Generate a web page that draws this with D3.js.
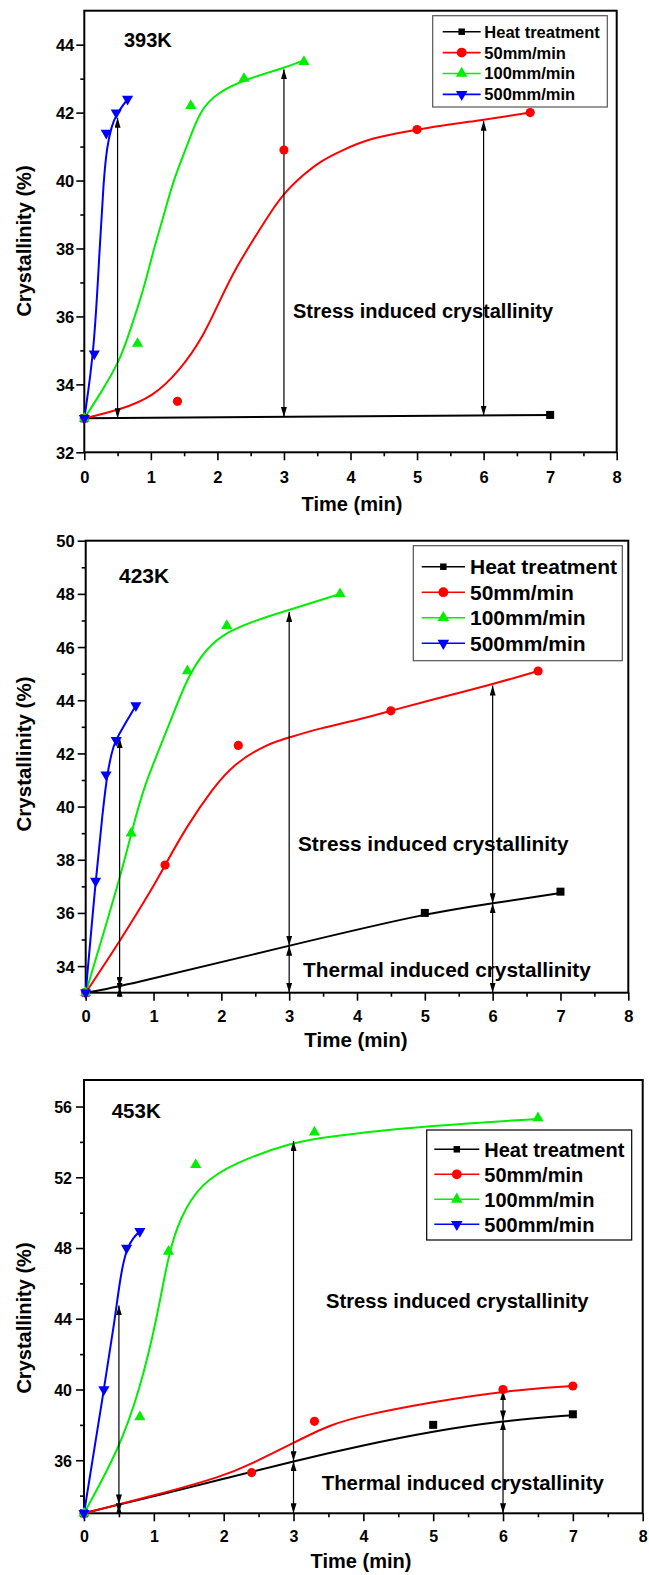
<!DOCTYPE html>
<html>
<head>
<meta charset="utf-8">
<script src="https://cdn.jsdelivr.net/npm/d3@7"></script>
<style>
  body { margin: 0; background: #fff; }
  text { font-family: "Liberation Sans", Arial, Helvetica, sans-serif; font-weight: bold; fill: #000; }
</style>
</head>
<body>
<svg id="chart" width="649" height="1575"></svg>
<script>
const seriesNames = ['Heat treatment', '50mm/min', '100mm/min', '500mm/min'];
const seriesColors = ['#000000', '#ff0000', '#00ee00', '#0000ff'];
const seriesSymbols = ['square', 'circle', 'triangle', 'triangleDown'];

const xTicks = [0, 1, 2, 3, 4, 5, 6, 7, 8];
const xMinor = [0.5, 1.5, 2.5, 3.5, 4.5, 5.5, 6.5, 7.5];

// ---- 393K ----
const p1Title = '393K';
const p1YDomain = [32, 45];
const p1YTicks = [32, 34, 36, 38, 40, 42, 44];
const p1YMinor = [33, 35, 37, 39, 41, 43];
const p1Heat = [[0, 33.0], [7, 33.1]];
const p1HeatFit = [[0, 33.0], [7, 33.1]];
const p1Rate50 = [[0, 33.0], [1.4, 33.5], [3.0, 40.9], [5.0, 41.5], [6.7, 42.0]];
const p1Rate50Fit = [[0, 33.0], [0.54, 33.25], [1.04, 33.64], [1.44, 34.42], [1.79, 35.41], [2.04, 36.49],
  [2.29, 37.47], [2.54, 38.26], [2.79, 39.04], [3.0, 39.63], [3.29, 40.17], [3.54, 40.56], [3.84, 40.86],
  [4.29, 41.25], [5.0, 41.51], [6.0, 41.79], [6.7, 42.0]];
const p1Rate100 = [[0, 33.0], [0.8, 35.2], [1.6, 42.2], [2.4, 43.0], [3.3, 43.5]];
const p1Rate100Fit = [[0, 33.0], [0.25, 33.75], [0.54, 34.72], [0.69, 35.6], [0.89, 36.78], [1.04, 37.96],
  [1.19, 38.94], [1.34, 40.02], [1.54, 41.0], [1.74, 42.08], [1.99, 42.57], [2.4, 42.97], [3.0, 43.31], [3.3, 43.54]];
const p1Rate500 = [[0, 33.0], [0.15, 34.9], [0.33, 41.4], [0.48, 42.0], [0.65, 42.4]];
const p1Rate500Fit = [[0, 33.0], [0.15, 35.0], [0.23, 38.0], [0.29, 40.0], [0.34, 41.0], [0.41, 41.6],
  [0.48, 41.95], [0.65, 42.4]];
const p1Arrows = [[0.5, 33.0, 41.85], [3, 33.04, 43.28], [6, 33.08, 41.76]];
const p1Notes = ['Stress induced crystallinity'];

// ---- 423K ----
const p2Title = '423K';
const p2YDomain = [33, 50];
const p2YTicks = [34, 36, 38, 40, 42, 44, 46, 48, 50];
const p2YMinor = [35, 37, 39, 41, 43, 45, 47, 49];
const p2Heat = [[0, 33.0], [5, 36.0], [7, 36.8]];
const p2HeatFit = [[0, 33.0], [0.5, 33.22], [3, 34.77], [5, 35.98], [6, 36.36], [7, 36.75]];
const p2Rate50 = [[0, 33.0], [1.17, 37.8], [2.25, 42.3], [4.5, 43.6], [6.67, 45.1]];
const p2Rate50Fit = [[0, 33.0], [0.5, 34.92], [1.0, 37.0], [1.17, 37.8], [1.5, 39.3], [1.88, 40.7],
  [2.18, 41.6], [2.67, 42.35], [3.0, 42.6], [3.46, 42.95], [4.0, 43.25], [4.49, 43.6], [5.0, 43.95],
  [6.0, 44.6], [6.67, 45.1]];
const p2Rate100 = [[0, 33.0], [0.67, 39.0], [1.5, 45.1], [2.08, 46.8], [3.75, 48.0]];
const p2Rate100Fit = [[0, 33.0], [0.5, 37.25], [0.68, 39.06], [0.86, 40.8], [1.19, 42.8], [1.5, 44.9],
  [1.78, 45.95], [2.08, 46.57], [2.5, 47.0], [3.0, 47.4], [3.46, 47.76], [3.75, 48.0]];
const p2Rate500 = [[0, 33.0], [0.146, 37.2], [0.3, 41.2], [0.45, 42.5], [0.74, 43.8]];
const p2Rate500Fit = [[0, 33.0], [0.146, 37.2], [0.25, 39.8], [0.32, 41.3], [0.41, 42.35], [0.5, 42.75],
  [0.6, 43.2], [0.74, 43.8]];
const p2Arrows = [[0.5, 33.22, 42.58], [0.5, 33.0, 33.22], [3, 34.77, 47.32], [3, 33.0, 34.77],
  [6, 36.36, 44.55], [6, 33.0, 36.36]];
const p2Notes = ['Stress induced crystallinity', 'Thermal induced crystallinity'];

// ---- 453K ----
const p3Title = '453K';
const p3YDomain = [33, 57.5];
const p3YTicks = [36, 40, 44, 48, 52, 56];
const p3YMinor = [34, 38, 42, 46, 50, 54];
const p3Heat = [[0, 33.0], [5, 38.0], [7, 38.6]];
const p3HeatFit = [[0, 33.0], [0.5, 33.5], [1, 33.95], [2, 34.95], [3, 35.95], [4, 36.85], [5, 37.64],
  [6, 38.23], [7, 38.55]];
const p3Rate50 = [[0, 33.0], [2.4, 35.3], [3.3, 38.2], [6.0, 40.0], [7.0, 40.2]];
const p3Rate50Fit = [[0, 33.0], [1, 34.0], [2, 35.1], [2.4, 35.8], [3, 36.98], [3.5, 37.98], [4, 38.55],
  [5, 39.3], [6, 39.92], [7, 40.2]];
const p3Rate100 = [[0, 33.0], [0.8, 38.45], [1.21, 47.8], [1.6, 52.7], [3.3, 54.55], [6.5, 55.35]];
const p3Rate100Fit = [[0, 33.0], [0.5, 36.6], [0.8, 40.0], [1.04, 43.9], [1.21, 47.7], [1.375, 49.7],
  [1.66, 51.6], [2.14, 52.8], [3.0, 54.0], [3.5, 54.3], [4.5, 54.75], [5.5, 55.05], [6.5, 55.3]];
const p3Rate500 = [[0, 33.0], [0.285, 40.0], [0.61, 48.0], [0.8, 48.95]];
const p3Rate500Fit = [[0, 33.0], [0.285, 40.0], [0.44, 43.9], [0.52, 46.4], [0.61, 48.0], [0.71, 48.6],
  [0.8, 48.95]];
const p3Arrows = [[0.5, 33.5, 44.75], [0.5, 33.0, 33.5], [3, 35.95, 54.05], [3, 33.0, 35.95],
  [6, 38.25, 39.95], [6, 33.0, 38.25]];
const p3Notes = ['Stress induced crystallinity', 'Thermal induced crystallinity'];

// positions and sizes of each panel on the page
const layout = [
  { left: 84.3, right: 616.7, top: 10.7, bottom: 452.3, tickFont: 16.5, xLabelY: 483.5, yLabelGap: 10,
    title: [124, 47.3, 20], xTitle: [352, 511, 20], yTitle: [31, 241, 20],
    notes: [[293, 317.7, 20]],
    legend: { x0: 432.7, y0: 15.7, x1: 607.3, y1: 107, row0: 31.7, step: 20.9, lx0: 442.7, lx1: 480.7, tx: 484.3, font: 16.5, stroke: '#555' } },
  { left: 85.7, right: 628.3, top: 540.7, bottom: 992.7, tickFont: 16.5, xLabelY: 1022, yLabelGap: 11,
    title: [119, 582.7, 21], xTitle: [356, 1047, 20.5], yTitle: [31, 754, 20.5],
    notes: [[298, 851, 20.8], [303, 976.7, 20.8]],
    legend: { x0: 413.3, y0: 545.7, x1: 622.3, y1: 660.7, row0: 566.7, step: 25.5, lx0: 421.7, lx1: 465, tx: 470, font: 21, stroke: '#555' } },
  { left: 84, right: 642.7, top: 1080, bottom: 1513.3, tickFont: 16, xLabelY: 1542, yLabelGap: 12,
    title: [111.7, 1118.3, 20.5], xTitle: [361, 1568, 20], yTitle: [31, 1318, 20],
    notes: [[326, 1308.3, 20.2], [321.7, 1490, 20.4]],
    legend: { x0: 426.7, y0: 1130, x1: 631.7, y1: 1240, row0: 1149.3, step: 25, lx0: 434.3, lx1: 479.3, tx: 484.3, font: 20, stroke: '#000' } },
];

const panelData = [
  { title: p1Title, yDomain: p1YDomain, yTicks: p1YTicks, yMinor: p1YMinor, arrows: p1Arrows, notes: p1Notes,
    points: [p1Heat, p1Rate50, p1Rate100, p1Rate500], fits: [p1HeatFit, p1Rate50Fit, p1Rate100Fit, p1Rate500Fit] },
  { title: p2Title, yDomain: p2YDomain, yTicks: p2YTicks, yMinor: p2YMinor, arrows: p2Arrows, notes: p2Notes,
    points: [p2Heat, p2Rate50, p2Rate100, p2Rate500], fits: [p2HeatFit, p2Rate50Fit, p2Rate100Fit, p2Rate500Fit] },
  { title: p3Title, yDomain: p3YDomain, yTicks: p3YTicks, yMinor: p3YMinor, arrows: p3Arrows, notes: p3Notes,
    points: [p3Heat, p3Rate50, p3Rate100, p3Rate500], fits: [p3HeatFit, p3Rate50Fit, p3Rate100Fit, p3Rate500Fit] },
];

const svg = d3.select('#chart');

svg.append('defs').append('marker')
    .attr('id', 'head')
    .attr('viewBox', '0 0 10 6')
    .attr('refX', 10)
    .attr('refY', 3)
    .attr('markerWidth', 10)
    .attr('markerHeight', 6)
    .attr('markerUnits', 'userSpaceOnUse')
    .attr('orient', 'auto-start-reverse')
  .append('path')
    .attr('d', 'M0,0L10,3L0,6Z')
    .attr('fill', '#000');

// symbol areas: plot markers, legend markers
function symbolPath(kind, big) {
  if (kind === 'square') return d3.symbol(d3.symbolSquare, big ? 64 : 42)();
  if (kind === 'circle') return d3.symbol(d3.symbolCircle, big ? 66 : 76)();
  return d3.symbol(d3.symbolTriangle, big ? 54 : 58)();
}

function drawMarkers(g, pts, i, big) {
  g.selectAll(null)
    .data(pts)
    .join('path')
      .attr('d', symbolPath(seriesSymbols[i], big))
      .attr('transform', (d) => `translate(${d[0]},${d[1]})` + (seriesSymbols[i] === 'triangleDown' ? ' rotate(180)' : ''))
      .attr('fill', seriesColors[i]);
}

panelData.forEach((p, k) => {
  const L = layout[k];
  const x = d3.scaleLinear([0, 8], [L.left, L.right]);
  const y = d3.scaleLinear(p.yDomain, [L.bottom, L.top]);
  const g = svg.append('g');

  // axes
  const xAxis = g.append('g')
    .attr('transform', `translate(0,${L.bottom})`)
    .call(d3.axisBottom(x).tickValues(xTicks).tickSize(8).tickFormat(d3.format('d')));
  xAxis.selectAll('text').attr('y', L.xLabelY - L.bottom).attr('dy', 0).style('font-size', L.tickFont + 'px');
  g.append('g')
    .attr('transform', `translate(0,${L.bottom})`)
    .call(d3.axisBottom(x).tickValues(xMinor).tickSize(4).tickFormat(''));

  const yAxis = g.append('g')
    .attr('transform', `translate(${L.left},0)`)
    .call(d3.axisLeft(y).tickValues(p.yTicks).tickSize(8).tickFormat(d3.format('d')));
  yAxis.selectAll('text').attr('x', -L.yLabelGap).attr('dy', '0.36em').style('font-size', L.tickFont + 'px');
  g.append('g')
    .attr('transform', `translate(${L.left},0)`)
    .call(d3.axisLeft(y).tickValues(p.yMinor).tickSize(4).tickFormat(''));

  g.selectAll('.domain').remove();
  g.selectAll('.tick line').attr('stroke', '#000').attr('stroke-width', 1.6);

  g.append('rect')
    .attr('x', L.left).attr('y', L.top)
    .attr('width', L.right - L.left).attr('height', L.bottom - L.top)
    .attr('fill', 'none').attr('stroke', '#000').attr('stroke-width', 2);

  // fitted curves
  const line = d3.line().x((d) => x(d[0])).y((d) => y(d[1])).curve(d3.curveBasis);
  p.fits.forEach((f, i) => {
    g.append('path')
      .attr('d', line(f))
      .attr('fill', 'none')
      .attr('stroke', seriesColors[i])
      .attr('stroke-width', 2);
  });

  // arrows
  g.selectAll(null)
    .data(p.arrows)
    .join('line')
      .attr('x1', (d) => x(d[0])).attr('x2', (d) => x(d[0]))
      .attr('y1', (d) => y(d[1])).attr('y2', (d) => y(d[2]))
      .attr('stroke', '#000').attr('stroke-width', 1.2)
      .attr('marker-start', 'url(#head)').attr('marker-end', 'url(#head)');

  // markers
  p.points.forEach((pts, i) => {
    drawMarkers(g, pts.map((d) => [x(d[0]), y(d[1])]), i, true);
  });

  // texts
  g.append('text').text(p.title)
    .attr('x', L.title[0]).attr('y', L.title[1]).style('font-size', L.title[2] + 'px');
  p.notes.forEach((t, j) => {
    g.append('text').text(t)
      .attr('x', L.notes[j][0]).attr('y', L.notes[j][1]).style('font-size', L.notes[j][2] + 'px');
  });
  g.append('text').text('Time (min)')
    .attr('x', L.xTitle[0]).attr('y', L.xTitle[1])
    .attr('text-anchor', 'middle').style('font-size', L.xTitle[2] + 'px');
  g.append('text').text('Crystallinity (%)')
    .attr('transform', `translate(${L.yTitle[0]},${L.yTitle[1]}) rotate(-90)`)
    .attr('text-anchor', 'middle').style('font-size', L.yTitle[2] + 'px');

  // legend
  const lg = L.legend;
  g.append('rect')
    .attr('x', lg.x0).attr('y', lg.y0)
    .attr('width', lg.x1 - lg.x0).attr('height', lg.y1 - lg.y0)
    .attr('fill', '#fff').attr('stroke', lg.stroke).attr('stroke-width', 1.2);
  seriesNames.forEach((name, i) => {
    const ry = lg.row0 + i * lg.step;
    g.append('line')
      .attr('x1', lg.lx0).attr('x2', lg.lx1).attr('y1', ry).attr('y2', ry)
      .attr('stroke', seriesColors[i]).attr('stroke-width', 1.6);
    drawMarkers(g, [[(lg.lx0 + lg.lx1) / 2, ry]], i, false);
    g.append('text').text(name)
      .attr('x', lg.tx).attr('y', ry).attr('dy', '0.36em')
      .style('font-size', lg.font + 'px');
  });
});
</script>
</body>
</html>
